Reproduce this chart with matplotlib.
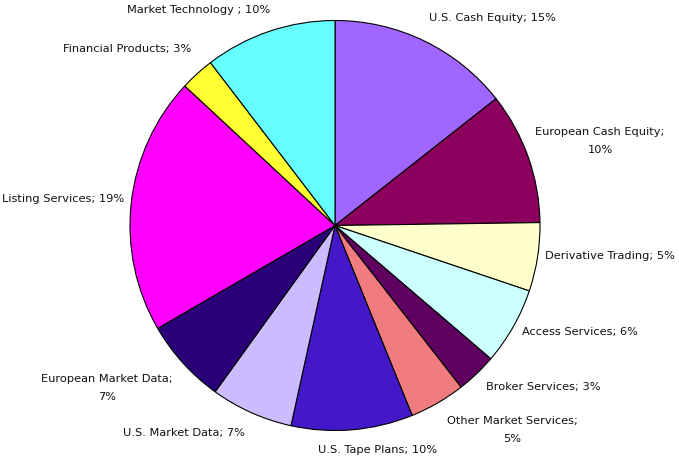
import matplotlib
matplotlib.use('Agg')
import matplotlib.pyplot as plt

# slices, clockwise from 12 o'clock
categories = ['U.S. Cash Equity', 'European Cash Equity', 'Derivative Trading',
              'Access Services', 'Broker Services', 'Other Market Services',
              'U.S. Tape Plans', 'U.S. Market Data', 'European Market Data',
              'Listing Services', 'Financial Products', 'Market Technology']
# slice sizes (percent)
shares = [14.4, 10.4, 5.4, 6.1, 3.2, 4.4, 9.6, 6.5, 6.7, 20.3, 2.7, 10.4]
label_texts = ['U.S. Cash Equity; 15%', 'European Cash Equity;\n10%',
               'Derivative Trading; 5%', 'Access Services; 6%',
               'Broker Services; 3%', 'Other Market Services;\n5%',
               'U.S. Tape Plans; 10%', 'U.S. Market Data; 7%',
               'European Market Data;\n7%', 'Listing Services; 19%',
               'Financial Products; 3%', 'Market Technology ; 10%']
colors = ['#A066FF', '#8C005E', '#FFFFCC', '#CCFFFF', '#600060', '#F07C80',
          '#4418C8', '#CCBBFF', '#2A0078', '#FF00FF', '#FFFF33', '#66FFFF']

# label centres in pixel coords (x, y from top)
label_pos = [(492, 18), (600, 141), (610, 256), (580, 332), (543, 387),
             (512, 430), (378, 450), (184, 433), (107, 388), (63, 199),
             (127, 49), (199, 10)]

W, H = 679, 462
fig = plt.figure(figsize=(W / 100, H / 100), dpi=100)
ax = fig.add_axes([0, 0, 1, 1])

ax.pie(shares, colors=colors, startangle=90, counterclock=False,
       center=(335, H - 225.5), radius=205,
       wedgeprops=dict(edgecolor='black', linewidth=0.8))

for txt, (px, py) in zip(label_texts, label_pos):
    ax.text(px, H - py, txt, ha='center', va='center', fontsize=8.2,
            family='DejaVu Sans', color='#111111', linespacing=1.9)

ax.set_xlim(0, W)
ax.set_ylim(0, H)
ax.set_aspect('equal')
ax.axis('off')

fig.savefig('out.png', dpi=100)
